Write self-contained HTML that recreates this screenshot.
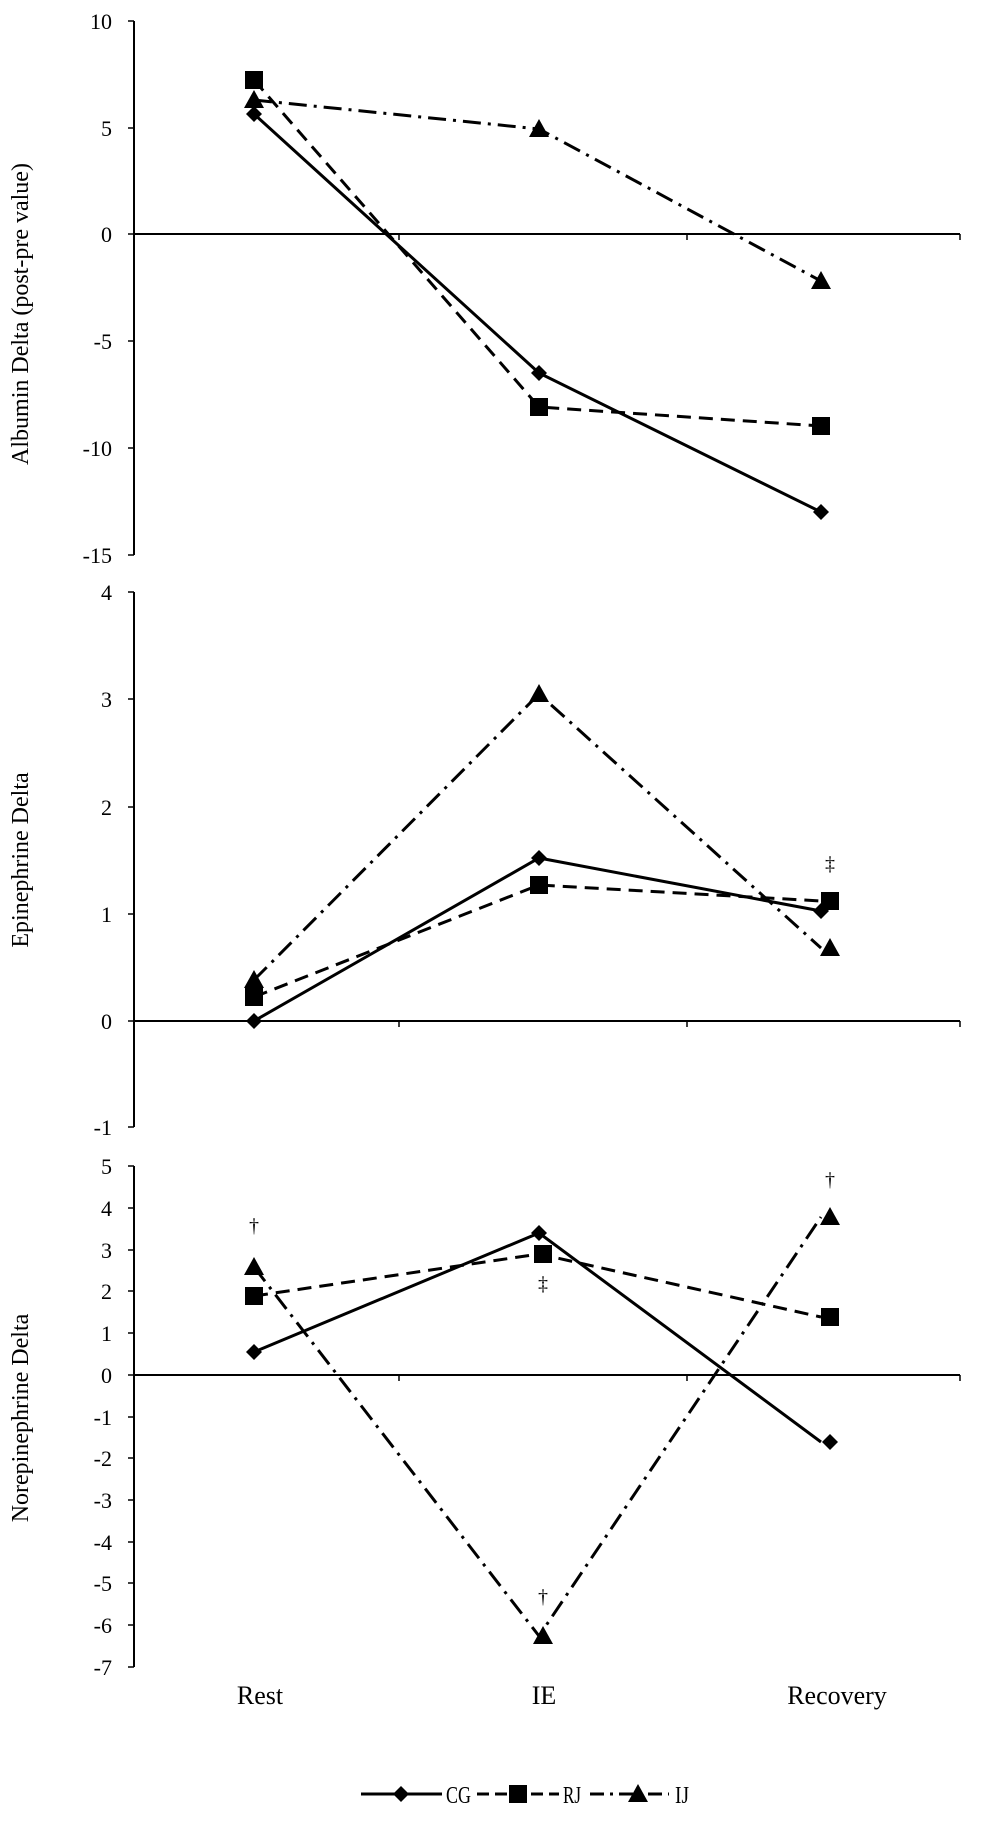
<!DOCTYPE html>
<html><head><meta charset="utf-8"><style>
html,body{margin:0;padding:0;background:#fff;}
svg{display:block;}
text{font-family:"Liberation Serif",serif;fill:#000;}
</style></head><body>
<svg width="1000" height="1823" viewBox="0 0 1000 1823" xmlns="http://www.w3.org/2000/svg">
<defs>
<path id="dia" d="M0,-8 L8,0 L0,8 L-8,0Z"/>
<rect id="sq" x="-9" y="-9" width="18" height="18"/>
<path id="tri" d="M0,-10 L10,8 L-10,8Z"/>
</defs>
<g stroke="#000" stroke-width="2" fill="none">
<line x1="134" y1="21" x2="134" y2="555"/>
<line x1="134" y1="234" x2="960" y2="234"/>
<g stroke-width="1.5">
<line x1="128" y1="21" x2="134" y2="21"/><line x1="128" y1="128" x2="134" y2="128"/>
<line x1="128" y1="234" x2="134" y2="234"/><line x1="128" y1="341" x2="134" y2="341"/>
<line x1="128" y1="448" x2="134" y2="448"/><line x1="128" y1="555" x2="134" y2="555"/>
<line x1="399" y1="234" x2="399" y2="240"/><line x1="687" y1="234" x2="687" y2="240"/><line x1="960" y1="234" x2="960" y2="240"/>
</g>
<line x1="134" y1="592" x2="134" y2="1127"/>
<line x1="134" y1="1021" x2="960" y2="1021"/>
<g stroke-width="1.5">
<line x1="128" y1="592" x2="134" y2="592"/><line x1="128" y1="699" x2="134" y2="699"/>
<line x1="128" y1="807" x2="134" y2="807"/><line x1="128" y1="914" x2="134" y2="914"/>
<line x1="128" y1="1021" x2="134" y2="1021"/><line x1="128" y1="1127" x2="134" y2="1127"/>
<line x1="399" y1="1021" x2="399" y2="1027"/><line x1="687" y1="1021" x2="687" y2="1027"/><line x1="960" y1="1021" x2="960" y2="1027"/>
</g>
<line x1="134" y1="1166" x2="134" y2="1667"/>
<line x1="134" y1="1375" x2="960" y2="1375"/>
<g stroke-width="1.5">
<line x1="128" y1="1166" x2="134" y2="1166"/><line x1="128" y1="1208" x2="134" y2="1208"/>
<line x1="128" y1="1250" x2="134" y2="1250"/><line x1="128" y1="1291" x2="134" y2="1291"/>
<line x1="128" y1="1333" x2="134" y2="1333"/><line x1="128" y1="1375" x2="134" y2="1375"/>
<line x1="128" y1="1417" x2="134" y2="1417"/><line x1="128" y1="1458" x2="134" y2="1458"/>
<line x1="128" y1="1500" x2="134" y2="1500"/><line x1="128" y1="1542" x2="134" y2="1542"/>
<line x1="128" y1="1583" x2="134" y2="1583"/><line x1="128" y1="1625" x2="134" y2="1625"/>
<line x1="128" y1="1667" x2="134" y2="1667"/>
<line x1="399" y1="1375" x2="399" y2="1381"/><line x1="687" y1="1375" x2="687" y2="1381"/><line x1="960" y1="1375" x2="960" y2="1381"/>
</g>
<g stroke-width="3">
<polyline points="254,114 539,373 821,512"/>
<polyline stroke-dasharray="14,8" points="254,80 539,407 821,426"/>
<polyline stroke-dasharray="18,7,3,7" points="254,100 539,129 821,281"/>
<polyline points="254,1021 539,858 821,911"/>
<polyline stroke-dasharray="14,8" points="254,997 539,885 821,901"/>
<polyline stroke-dasharray="18,7,3,7" points="254,980 539,694 821,948"/>
<polyline points="254,1352 539,1233 821,1442"/>
<polyline stroke-dasharray="14,8" points="254,1296 539,1254 821,1317"/>
<polyline stroke-dasharray="18,7,3,7" points="254,1267 539,1636 821,1217"/>
<line x1="361" y1="1794" x2="442" y2="1794"/>
<line x1="477" y1="1794" x2="559" y2="1794" stroke-dasharray="12,6"/>
<line x1="590" y1="1794" x2="669" y2="1794" stroke-dasharray="14,6,3,6"/>
</g>
</g>
<g fill="#000">
<use href="#dia" x="254" y="114"/><use href="#dia" x="539" y="373"/><use href="#dia" x="821" y="512"/>
<use href="#sq" x="254" y="80"/><use href="#sq" x="539" y="407"/><use href="#sq" x="821" y="426"/>
<use href="#tri" x="254" y="100"/><use href="#tri" x="539" y="129"/><use href="#tri" x="821" y="281"/>
<use href="#dia" x="254" y="1021"/><use href="#dia" x="539" y="858"/><use href="#dia" x="821" y="911"/>
<use href="#sq" x="254" y="997"/><use href="#sq" x="539" y="885"/><use href="#sq" x="830" y="901"/>
<use href="#tri" x="254" y="980"/><use href="#tri" x="539" y="694"/><use href="#tri" x="830" y="948"/>
<use href="#dia" x="254" y="1352"/><use href="#dia" x="539" y="1233"/><use href="#dia" x="830" y="1442"/>
<use href="#sq" x="254" y="1296"/><use href="#sq" x="543" y="1254"/><use href="#sq" x="830" y="1317"/>
<use href="#tri" x="254" y="1267"/><use href="#tri" x="543" y="1636"/><use href="#tri" x="830" y="1217"/>
<use href="#dia" x="401" y="1794"/><use href="#sq" x="518" y="1794"/><use href="#tri" x="638" y="1794"/>
</g>
<g font-size="22" text-anchor="end">
<text x="112" y="29">10</text><text x="112" y="136">5</text><text x="112" y="242">0</text>
<text x="112" y="349">-5</text><text x="112" y="456">-10</text><text x="112" y="563">-15</text>
<text x="112" y="600">4</text><text x="112" y="707">3</text><text x="112" y="815">2</text>
<text x="112" y="922">1</text><text x="112" y="1029">0</text><text x="112" y="1135">-1</text>
<text x="112" y="1174">5</text><text x="112" y="1216">4</text><text x="112" y="1258">3</text>
<text x="112" y="1299">2</text><text x="112" y="1341">1</text><text x="112" y="1383">0</text>
<text x="112" y="1425">-1</text><text x="112" y="1466">-2</text><text x="112" y="1508">-3</text>
<text x="112" y="1550">-4</text><text x="112" y="1591">-5</text><text x="112" y="1633">-6</text>
<text x="112" y="1675">-7</text>
</g>
<g font-size="24" text-anchor="middle">
<text transform="translate(28,314) rotate(-90)">Albumin Delta (post-pre value)</text>
<text transform="translate(28,860) rotate(-90)">Epinephrine Delta</text>
<text transform="translate(28,1418) rotate(-90)">Norepinephrine Delta</text>
<text x="260" y="1704" font-size="26">Rest</text>
<text x="544" y="1704" font-size="26">IE</text>
<text x="837" y="1704" font-size="26">Recovery</text>
<text x="830" y="870" font-size="20">‡</text>
<text x="254" y="1232" font-size="20">†</text>
<text x="543" y="1290" font-size="20">‡</text>
<text x="543" y="1603" font-size="20">†</text>
<text x="830" y="1186" font-size="20">†</text>
</g>
<g font-size="24">
<text x="446" y="1803" textLength="25" lengthAdjust="spacingAndGlyphs">CG</text>
<text x="563" y="1803" textLength="18" lengthAdjust="spacingAndGlyphs">RJ</text>
<text x="675" y="1803" textLength="14" lengthAdjust="spacingAndGlyphs">IJ</text>
</g>
</svg>
</body></html>
